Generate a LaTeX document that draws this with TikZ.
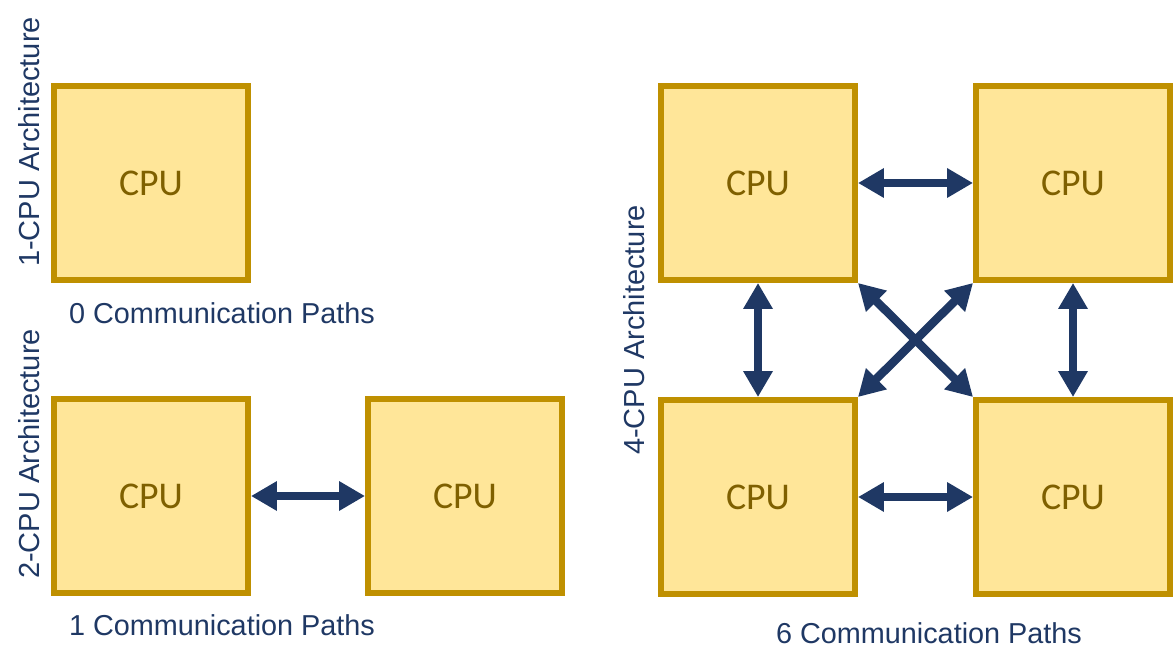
\documentclass[tikz,border=0pt]{standalone}
\usepackage{fontspec}
\setmainfont{Liberation Sans}
\newfontfamily\cpufont{Carlito}
\usetikzlibrary{arrows.meta}
\definecolor{cpufill}{HTML}{FFE699}
\definecolor{cpuline}{HTML}{BF9000}
\definecolor{cputext}{HTML}{7F6000}
\definecolor{navy}{HTML}{1F3864}

\begin{document}
\begin{tikzpicture}[x=0.02cm,y=-0.02cm,
          cpu/.style={draw=cpuline,fill=cpufill,line width=0.12cm,minimum size=3.88cm,
            text=cputext,font=\cpufont\fontsize{21.5}{25}\selectfont},
          arch/.style={rotate=90,text=navy,font=\fontsize{16.5}{20}\selectfont},
          paths/.style={text=navy,font=\fontsize{16.4}{19}\selectfont},
          link/.style={draw=navy,line width=0.17cm,
            {Triangle[length=0.52cm,width=0.56cm]}-{Triangle[length=0.52cm,width=0.56cm]}}]
          \useasboundingbox (0,0) rectangle (1175,668);
          % 1 cpu
          \node[cpu](one)at(151,183){CPU};
          \node[arch](archone)at(29,142){1-CPU Architecture};
          \node[paths](pathsone)at(222,313){0 Communication Paths};
          % 2 cpus
          \node[cpu](twoa)at(151,496){CPU};
          \node[cpu](twob)at(465,496){CPU};
          \node[arch](archtwo)at(29,454){2-CPU Architecture};
          \node[paths](pathstwo)at(222,625){1 Communication Paths};
          \draw[link](twoa.east)--(twob.west);
          % 4 cpus
          \node[cpu](tl)at(758,183){CPU};
          \node[cpu](tr)at(1073,183){CPU};
          \node[cpu](bl)at(758,497){CPU};
          \node[cpu](br)at(1073,497){CPU};
          \node[arch](archfour)at(634,330){4-CPU Architecture};
          \node[paths](pathsfour)at(929,633){6 Communication Paths};
          \foreach \a/\b in {tl.east/tr.west,bl.east/br.west,tl.south/bl.north,
              tr.south/br.north,tl.south east/br.north west,tr.south west/bl.north east}
            {\draw[link](\a)--(\b);}
        \end{tikzpicture}
\end{document}
